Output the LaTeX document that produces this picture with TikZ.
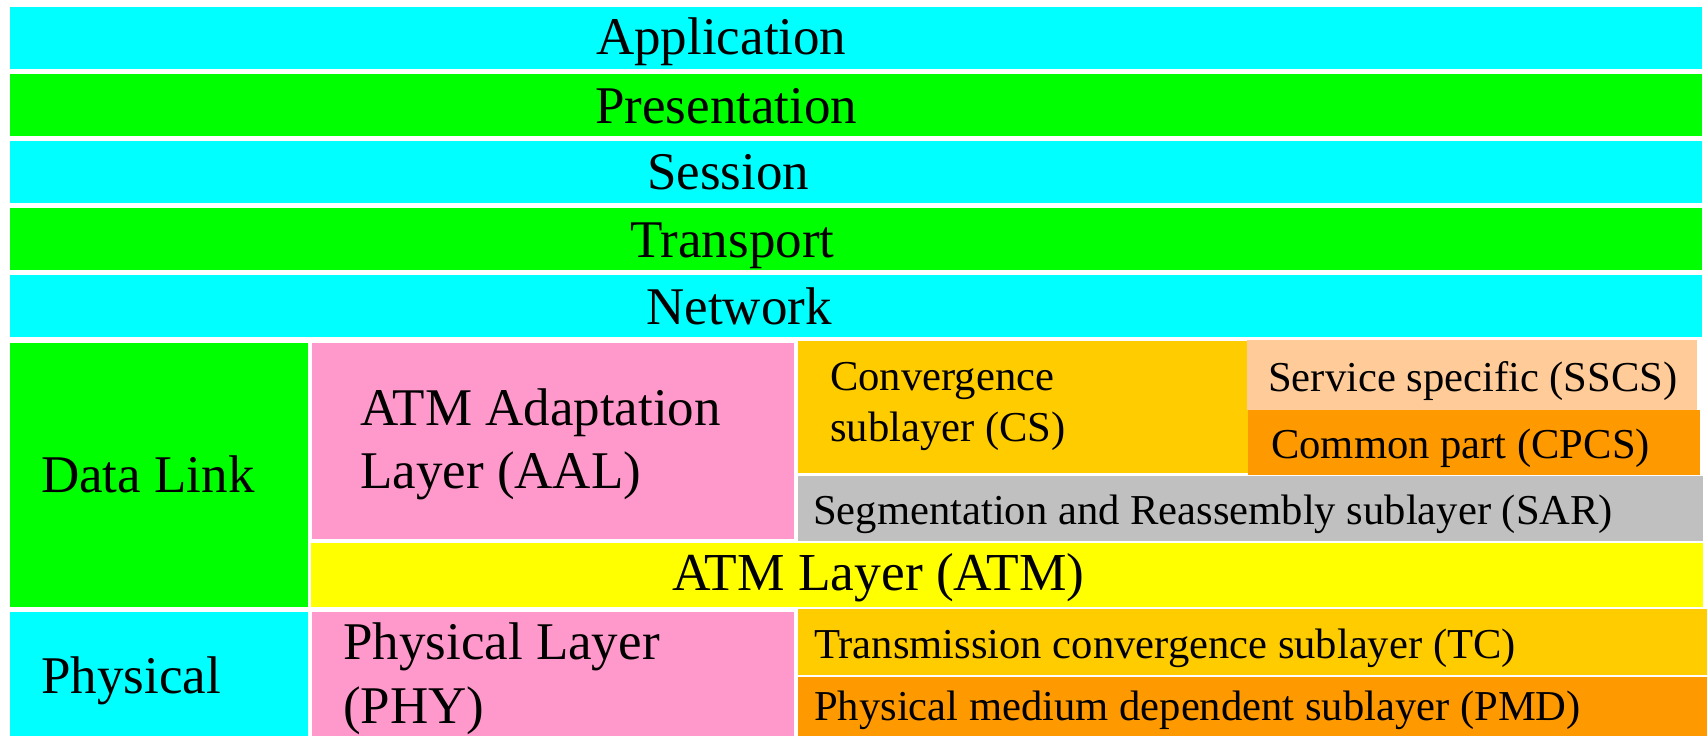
\documentclass[tikz,border=0pt]{standalone}
\usepackage{fontspec}
\setmainfont{Liberation Serif}
\definecolor{cyanL}{HTML}{00FFFF}
\definecolor{greenL}{HTML}{00FF00}
\definecolor{pinkL}{HTML}{FF99CC}
\definecolor{goldL}{HTML}{FFCC00}
\definecolor{peachL}{HTML}{FFCC99}
\definecolor{orangeL}{HTML}{FF9900}
\definecolor{grayL}{HTML}{C0C0C0}
\definecolor{yellowL}{HTML}{FFFF00}
\tikzset{
  big/.style={inner sep=0pt, anchor=base west, font=\fontsize{53bp}{63bp}\selectfont},
  mid/.style={inner sep=0pt, anchor=base west, font=\fontsize{53bp}{63bp}\selectfont},
  small/.style={inner sep=0pt, anchor=base west, font=\fontsize{42.6bp}{50bp}\selectfont},
}
\begin{document}
\begin{tikzpicture}[x=1bp,y=-1bp]
\fill[white] (0,0) rectangle (1707,736);
\useasboundingbox (0,0) rectangle (1707,736);
% boxes
\fill[cyanL]   (10,7)    rectangle (1702,69)  coordinate (app);
\fill[greenL]  (10,74)   rectangle (1702,136) coordinate (pres);
\fill[cyanL]   (10,141)  rectangle (1702,203) coordinate (sess);
\fill[greenL]  (10,208)  rectangle (1702,270) coordinate (trans);
\fill[cyanL]   (10,275)  rectangle (1702,337) coordinate (net);
\fill[greenL]  (10,343)  rectangle (308,607)  coordinate (dl);
\fill[pinkL]   (312,343) rectangle (794,539)  coordinate (aal);
\fill[goldL]   (798,341) rectangle (1248,473) coordinate (cs);
\fill[peachL]  (1247,340) rectangle (1697,410) coordinate (sscs);
\fill[orangeL] (1248,410) rectangle (1700,475) coordinate (cpcs);
\fill[grayL]   (798,476) rectangle (1703,541) coordinate (sar);
\fill[yellowL] (311,543) rectangle (1703,607) coordinate (atm);
\fill[cyanL]   (10,612)  rectangle (308,736)  coordinate (phys);
\fill[pinkL]   (312,612) rectangle (794,736)  coordinate (phy);
\fill[goldL]   (798,609) rectangle (1707,675) coordinate (tc);
\fill[orangeL] (798,677) rectangle (1707,736) coordinate (pmd);
% labels
\node[big] (tapp)   at (596,55)  {Application};
\node[big] (tpres)  at (595,123) {Presentation};
\node[big] (tsess)  at (647,189) {Session};
\node[big] (ttrans) at (630,257) {Transport};
\node[big] (tnet)   at (646,324) {Network};
\node[big] (tdl)    at (41,492)  {Data Link};
\node[mid] (taal1)  at (360,425) {ATM Adaptation};
\node[mid] (taal2)  at (360,488) {Layer (AAL)};
\node[small] (tcs1) at (830,390) {Convergence};
\node[small] (tcs2) at (830,441) {sublayer (CS)};
\node[small] (tsscs) at (1268,391) {Service specific (SSCS)};
\node[small] (tcpcs) at (1271,458) {Common part (CPCS)};
\node[small] (tsar) at (813,524) {Segmentation and Reassembly sublayer (SAR)};
\node[mid, font=\fontsize{53.4bp}{63bp}\selectfont] (tatm) at (672,590) {ATM Layer (ATM)};
\node[big] (tphys)  at (41,693)  {Physical};
\node[mid] (tphy1)  at (343,659) {Physical Layer};
\node[mid] (tphy2)  at (343,723) {(PHY)};
\node[small] (ttc)  at (814,658) {Transmission convergence sublayer (TC)};
\node[small] (tpmd) at (814,720) {Physical medium dependent sublayer (PMD)};
\end{tikzpicture}
\end{document}
